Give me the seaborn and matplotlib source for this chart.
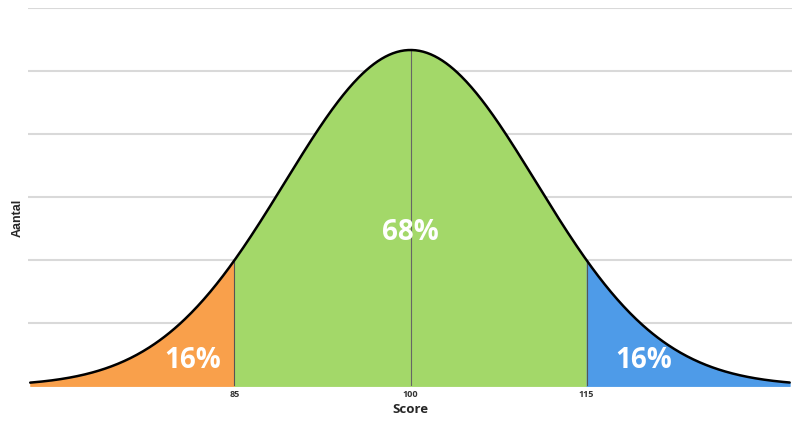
import numpy as np
import pandas as pd
import matplotlib.pyplot as plt
import seaborn as sns

# Normal distribution shown in the chart
mean = 100
sd = 10.7
x_range = [67.4, 132.5]
cut_points = [85, 115]
tick_values = [85, 100, 115]
tick_labels = ['85', '100', '115']
region_labels = ['16%', '68%', '16%']
region_colors = ['#F9A04B', '#A3D869', '#4E9BE8']


def pdf(v):
    return np.exp(-0.5 * ((v - mean) / sd) ** 2) / (sd * np.sqrt(2 * np.pi))


x = np.union1d(np.linspace(x_range[0] + 0.2, x_range[1] - 0.2, 600), cut_points + [mean])
df = pd.DataFrame({'Score': x, 'Aantal': pdf(x)})
peak = pdf(mean)
step = peak * 63 / 336

sns.set_style('white')
plt.rcParams['font.family'] = ['Open Sans', 'DejaVu Sans']

fig = plt.figure(figsize=(7.96, 4.21), dpi=100)
ax = fig.add_axes([0.035, 0.083, 0.96, 0.898])

for k in range(1, 7):
    ax.axhline(k * step, color='#d9d9d9', lw=1.5, zorder=0)

# filled regions
bounds = [x_range[0], cut_points[0], cut_points[1], x_range[1]]
for i in range(3):
    m = (df['Score'] >= bounds[i]) & (df['Score'] <= bounds[i + 1])
    ax.fill_between(df['Score'][m], 0, df['Aantal'][m], color=region_colors[i],
                    lw=0.6, edgecolor=region_colors[i], zorder=1)
for c in cut_points:
    ax.plot([c, c], [0, pdf(c)], color='#555555', lw=0.8, zorder=2)
ax.plot([mean, mean], [0, peak], color='#666666', lw=0.8, zorder=2)

sns.lineplot(data=df, x='Score', y='Aantal', color='black', lw=1.8, ax=ax, zorder=3)

# percentage labels
label_pos = [(81.4, 0.41), (mean, 2.43), (119.9, 0.41)]
for (lx, ly), txt in zip(label_pos, region_labels):
    ax.text(lx, ly * step, txt, color='white', fontsize=20, fontweight='bold',
            ha='center', va='center', zorder=4)

ax.set_xlim(x_range)
ax.set_ylim(0, 6 * step)
ax.set_xticks(tick_values)
ax.set_xticklabels(tick_labels, fontsize=6.5, fontweight='bold', color='#333333')
ax.tick_params(axis='x', length=0, pad=3)
ax.set_yticks([])
ax.set_xlabel('Score', fontsize=9.5, fontweight='bold', labelpad=3)
ax.set_ylabel('Aantal', fontsize=9, fontweight='bold', family=['Liberation Sans'])
ax.yaxis.set_label_coords(-0.005, 0.444)
sns.despine(ax=ax, left=True, bottom=True)

fig.savefig('out.png', dpi=100)
